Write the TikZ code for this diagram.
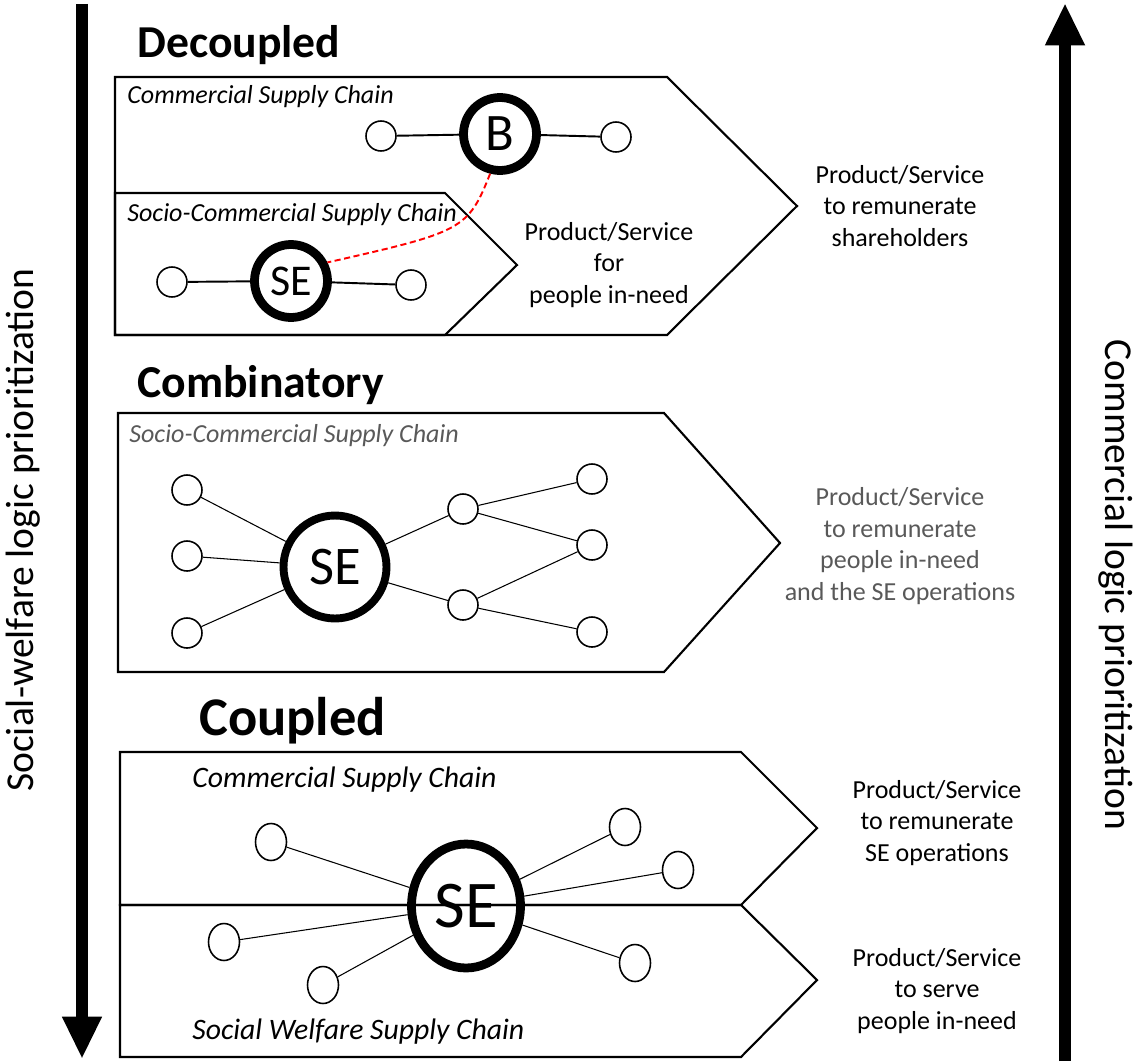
\documentclass[tikz,border=0pt]{standalone}
\usepackage{fontspec}
\setmainfont{Carlito}
\usetikzlibrary{positioning, shapes.geometric, arrows.meta}

\begin{document}
\begin{tikzpicture}[x=0.02cm, y=-0.02cm,
  chain/.style={draw, line width=1.2pt, line join=miter},
  leaf/.style={draw, circle, line width=0.9pt, minimum size=0.6cm, inner sep=0pt},
  oval leaf/.style={draw, ellipse, line width=0.9pt, minimum width=0.62cm, minimum height=0.74cm, inner sep=0pt},
  hub/.style={draw, circle, line width=5pt, inner sep=0pt},
  link/.style={line width=1.1pt},
  thin link/.style={line width=0.6pt},
  title/.style={font=\bfseries\fontsize{26}{30}\selectfont, anchor=west, inner sep=0pt},
  chainlabel/.style={font=\itshape\fontsize{14.8}{18}\selectfont, anchor=west, inner sep=0pt},
  outcome/.style={font=\fontsize{14.8}{18}\selectfont, align=center, inner sep=0pt},
  axis/.style={line width=6.6pt, -{Triangle[width=0.74cm, length=0.85cm]}},
  axislabel/.style={font=\fontsize{22.5}{26}\selectfont, inner sep=0pt},
]
\useasboundingbox (0,0) rectangle (1138,1061);

% priority axes
\coordinate (swtop) at (82,4);
\coordinate (swbot) at (82,1059);
\coordinate (cmbot) at (1065,1061);
\coordinate (cmtop) at (1065,3);
\draw[axis] (swtop) -- (swbot);
\draw[axis] (cmbot) -- (cmtop);
\node[axislabel, rotate=90] (swlabel) at (23,530) {Social-welfare logic prioritization};
\node[axislabel, rotate=-90] (cmlabel) at (1116,585) {Commercial logic prioritization};

% decoupled
\node[title] (dectitle) at (137,45) {Decoupled};
\draw[chain] (115,77) -- (667,77) -- (797,206) -- (667,335) -- (115,335) -- cycle;
\draw[chain] (115,193) -- (445,193) -- (517,265) -- (445,335) -- (115,335) -- cycle;
\node[chainlabel] (deccom) at (127,97) {Commercial Supply Chain};
\node[chainlabel] (decsoc) at (127,215) {Socio-Commercial Supply Chain};
\node[hub, minimum size=1.46cm, font=\fontsize{30}{30}\selectfont] (B) at (500,134) {B};
\node[leaf] (b1) at (381,136) {};
\node[leaf] (b2) at (616,137) {};
\node[hub, minimum size=1.46cm, font=\fontsize{25}{25}\selectfont] (se1) at (291,281) {SE};
\node[leaf] (s1) at (172,282) {};
\node[leaf] (s2) at (411,285) {};
\path[link] (b1) edge (B) (B) edge (b2) (s1) edge (se1) (se1) edge (s2);
\draw[red, line width=1.1pt, dash pattern=on 3.5pt off 2pt] (B.256) .. controls (468,230) and (462,232) .. (se1.27);
\node[outcome] (decsoc out) at (609,265) {Product/Service\\for\\people in-need};
\node[outcome] (deccom out) at (900,206) {Product/Service\\to remunerate\\shareholders};

% combinatory
\node[title] (comtitle) at (137,385) {Combinatory};
\draw[chain] (118,413) -- (664,413) -- (780,543) -- (664,672) -- (118,672) -- cycle;
\node[chainlabel, text=black!65] (comsoc) at (129,436) {Socio-Commercial Supply Chain};
\node[hub, minimum size=2.06cm, line width=4.5pt, font=\fontsize{31}{31}\selectfont] (se2) at (335,567) {SE};
\node[leaf] (l1) at (187,490) {};
\node[leaf] (l2) at (187,556) {};
\node[leaf] (l3) at (187,633) {};
\node[leaf] (m1) at (463,509) {};
\node[leaf] (m2) at (463,605) {};
\node[leaf] (r1) at (592,479) {};
\node[leaf] (r2) at (592,545) {};
\node[leaf] (r3) at (592,632) {};
\path[thin link] (l1) edge (se2) (l2) edge (se2) (l3) edge (se2)
  (se2) edge (m1) (se2) edge (m2)
  (m1) edge (r1) (m1) edge (r2) (m2) edge (r2) (m2) edge (r3);
\node[outcome, text=black!65] (com out) at (900,546) {Product/Service\\to remunerate\\people in-need\\and the SE operations};

% coupled
\node[title, font=\bfseries\fontsize{31}{34}\selectfont] (coutitle) at (199,721) {Coupled};
\draw[chain] (120,752) -- (741,752) -- (817,828) -- (741,905) -- (120,905) -- cycle;
\draw[chain] (120,905) -- (741,905) -- (817,980) -- (741,1057) -- (120,1057) -- cycle;
\node[chainlabel, font=\itshape\fontsize{16.9}{20}\selectfont] (coucom) at (192,780) {Commercial Supply Chain};
\node[chainlabel, font=\itshape\fontsize{16.9}{20}\selectfont] (cousoc) at (192,1032) {Social Welfare Supply Chain};
\node[hub, ellipse, minimum width=2.18cm, minimum height=2.48cm, line width=5pt, font=\fontsize{38}{38}\selectfont] (se3) at (466,906) {SE};
\node[oval leaf] (c1) at (271,842) {};
\node[oval leaf] (c2) at (625,827) {};
\node[oval leaf] (c3) at (678,870) {};
\node[oval leaf] (w1) at (224,942) {};
\node[oval leaf] (w2) at (323,985) {};
\node[oval leaf] (w3) at (635,963) {};
\path[thin link] (c1) edge (se3) (se3) edge (c2) (se3) edge (c3)
  (w1) edge (se3) (w2) edge (se3) (se3) edge (w3);
\node[outcome] (coucom out) at (937,823) {Product/Service\\to remunerate\\SE operations};
\node[outcome] (cousoc out) at (937,991) {Product/Service\\to serve\\people in-need};
\end{tikzpicture}
\end{document}
